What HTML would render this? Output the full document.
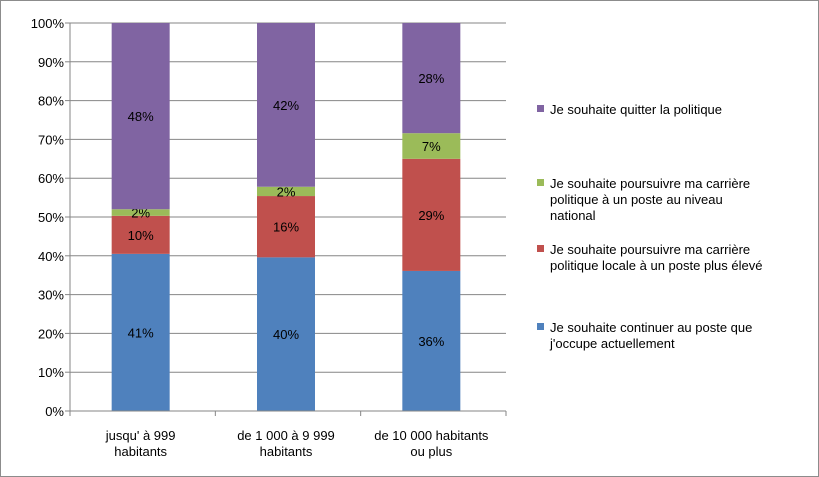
<!DOCTYPE html>
<html><head><meta charset="utf-8"><style>
body{margin:0;background:#fff;}
svg{display:block;font-family:"Liberation Sans",Arial,sans-serif;}
</style></head><body>
<svg id="chart" width="819" height="477">
<rect x="0.5" y="0.5" width="818" height="476" fill="#fff" stroke="#8c8c8c"/>
<g id="grid"></g><g id="bars"></g><g id="axes"></g><g id="legend"></g>
</svg>
<script>
const categories=[["jusqu' à 999","habitants"],["de 1 000 à 9 999","habitants"],["de 10 000 habitants","ou plus"]];
const continuer=[40.5,39.6,36.1];
const locale=[9.8,15.8,28.9];
const national=[1.7,2.4,6.6];
const quitter=[48.0,42.2,28.4];
const ticks=[0,10,20,30,40,50,60,70,80,90,100];
const seriesNames=[["Je souhaite continuer au poste que","j'occupe actuellement"],["Je souhaite poursuivre ma carrière","politique locale à un poste plus élevé"],["Je souhaite poursuivre ma carrière","politique à un poste au niveau","national"],["Je souhaite quitter la politique"]];
const colors=["#4F81BD","#C0504D","#9BBB59","#8064A2"];
const NS="http://www.w3.org/2000/svg";
const x0=70,x1=506,yTop=23,yBot=411;
const y=v=>yBot-(v/100)*(yBot-yTop);
const bandW=(x1-x0)/categories.length;
const cx=i=>x0+bandW*(i+0.5)-2;
function mk(tag,attrs,parent){const e=document.createElementNS(NS,tag);for(const k in attrs)e.setAttribute(k,attrs[k]);parent.appendChild(e);return e;}
const grid=document.getElementById('grid'),bars=document.getElementById('bars'),axes=document.getElementById('axes'),legend=document.getElementById('legend');
ticks.forEach(t=>{
  const l=mk('line',{x1:x0,x2:x1,y1:y(t),y2:y(t),stroke:'#868686','stroke-width':1},grid);
  
  
  mk('line',{x1:x0-5,x2:x0,y1:y(t),y2:y(t),stroke:'#868686'},axes);
  const tx=mk('text',{x:x0-6,y:y(t)+5,'text-anchor':'end','font-size':13,fill:'#000'},axes);
  tx.textContent=t+'%';
  
  
});
mk('line',{x1:x0,x2:x0,y1:yTop,y2:yBot,stroke:'#868686'},axes);
for(let i=0;i<=categories.length;i++){mk('line',{x1:x0+bandW*i,x2:x0+bandW*i,y1:yBot,y2:yBot+5,stroke:'#868686'},axes);}
const series=[continuer,locale,national,quitter];
const barW=58;
categories.forEach((c,i)=>{
  let acc=0;
  series.forEach((s,k)=>{
    const v=s[i];const yt=y(acc+v),yb=y(acc);
    const r=mk('rect',{x:cx(i)-barW/2,y:yt,width:barW,height:yb-yt,fill:colors[k]},bars);
    
    
    const t=mk('text',{x:cx(i),y:(yt+yb)/2+5,'text-anchor':'middle','font-size':13,fill:'#000'},bars);
    t.textContent=Math.round(v)+'%';
    
    
    acc+=v;
  });
  c.forEach((line,j)=>{
    const t=mk('text',{x:cx(i),y:yBot+29+j*16,'text-anchor':'middle','font-size':13,fill:'#000'},axes);
    t.textContent=line;
    
    
  });
});
mk('line',{x1:x0,x2:x1,y1:yBot,y2:yBot,stroke:'#868686'},axes);
const legendTops=[327,249,183,109];
seriesNames.forEach((lines,k)=>{
  const top=legendTops[k];
  const r=mk('rect',{x:537,y:top-4,width:7,height:7,fill:colors[k]},legend);
  
  
  lines.forEach((ln,j)=>{
    const t=mk('text',{x:550,y:top+5+j*16,'font-size':13,fill:'#000'},legend);
    t.textContent=ln;
    
    
  });
});
</script>
</body></html>
